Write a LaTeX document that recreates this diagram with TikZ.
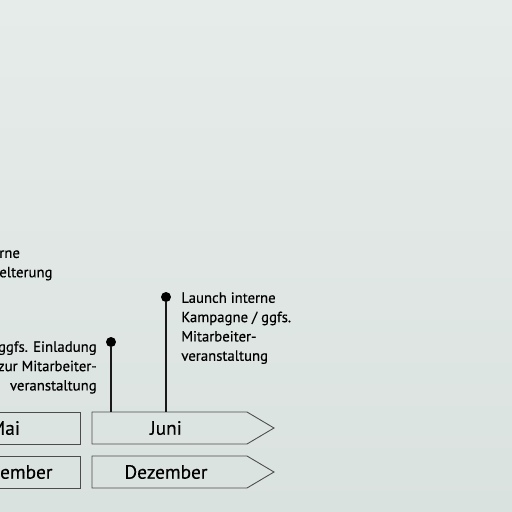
\documentclass[tikz,border=0pt]{standalone}
\usepackage{fontspec}
\setmainfont{PT Sans}[FakeBold=0.4]
\usetikzlibrary{positioning}
\tikzset{circ/.style = {fill, circle, inner sep = 0, minimum size = 0.2cm}}
\tikzset{stem/.style = {line width = 0.7pt, black!90}}
\tikzset{monthbox/.style = {draw = black!70, line width = 0.5pt}}
\tikzset{month/.style = {font = \fontsize{11}{13}\selectfont, text = black}}
\tikzset{note/.style = {font = \fontsize{8.4}{11}\selectfont, text = black, inner sep = 0}}
\definecolor{wall}{HTML}{DAE2DF}
\definecolor{walllight}{HTML}{E6ECE9}

\begin{document}
\begin{tikzpicture}[x = 0.02cm, y = -0.02cm]
      \useasboundingbox (0, 0) rectangle (512, 512);
      \clip (0, 0) rectangle (512, 512);
      \shade [top color = walllight, bottom color = wall] (0, 0) rectangle (512, 512);

      \draw [monthbox] (-80, 412) rectangle (80, 444);
      \draw [monthbox] (-80, 456) rectangle (80, 488);
      \draw [monthbox] (92, 412) -- (247, 412) -- (274, 428) -- (247, 444) -- (92, 444) -- cycle;
      \draw [monthbox] (92, 456) -- (247, 456) -- (274, 472) -- (247, 488) -- (92, 488) -- cycle;

      \node [month] (mai) at (5, 428) {Mai};
      \node [month] (dez0) at (11, 472) {Dezember};
      \node [month] (juni) at (166, 428) {Juni};
      \node [month] (dez) at (166, 472) {Dezember};

      \coordinate (top) at (0, 412);
      \node [circ] (d1) at (111, 342) {};
      \node [circ] (d2) at (166, 297) {};
      \draw [stem] (d1) -- (d1 |- top);
      \draw [stem] (d2) -- (d2 |- top);

      \node [note, anchor = north east, align = right] (t1) at (97, 341)
        {ggfs. Einladung\\zur Mitarbeiter-\\veranstaltung};
      \node [note, anchor = north west, align = left] (t2) at (181, 292)
        {Launch interne\\Kampagne / ggfs.\\Mitarbeiter-\\veranstaltung};
      \node [note, anchor = north west, align = left] (t0) at (-1, 250)
        {rne\\elterung};
    \end{tikzpicture}
\end{document}
